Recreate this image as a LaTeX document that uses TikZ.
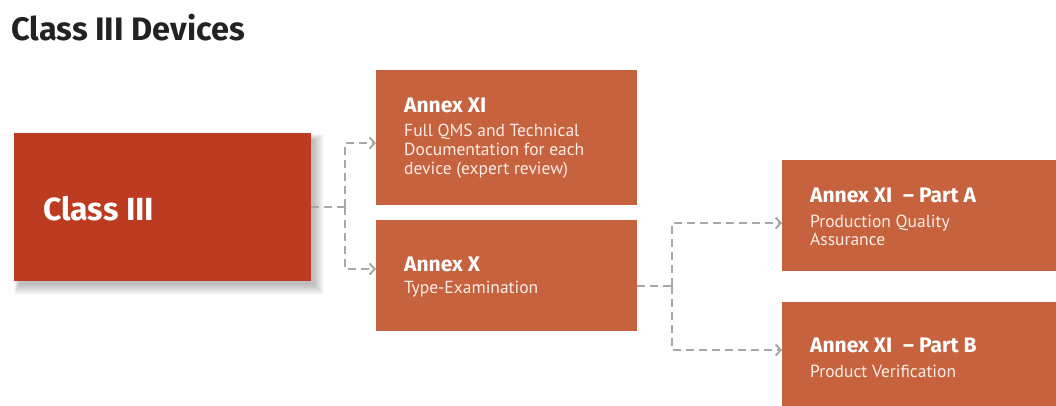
\documentclass[tikz,border=0pt]{standalone}
\usepackage{fontspec}
\setmainfont{Fira Sans}
\newfontfamily\subfont{PT Sans}
\usetikzlibrary{arrows.meta}
\definecolor{darkred}{HTML}{BC3B21}
\definecolor{rust}{HTML}{C7623E}
\definecolor{conngray}{HTML}{A8A8A8}
\definecolor{titleblack}{HTML}{222222}
\definecolor{subwhite}{HTML}{FBEDE6}
\begin{document}
\begin{tikzpicture}[x=1pt,y=-1pt,
  boxbase/.style={draw=none, anchor=north west, inner sep=0pt, outer sep=0pt},
  mainbox/.style={boxbase, fill=darkred},
  annexbox/.style={boxbase, fill=rust},
  headtext/.style={anchor=base west, inner sep=0pt, text=white, font=\bfseries\fontsize{21}{24}\selectfont},
  subtext/.style={anchor=base west, inner sep=0pt, text=subwhite, font=\subfont\fontsize{17.5}{19}\selectfont},
  conn/.style={draw=conngray, line width=2.2pt, dash pattern=on 8pt off 5pt},
  connarrow/.style={conn, -{Straight Barb[length=5pt,width=11pt,line width=2pt]}}]
\useasboundingbox (0,0) rectangle (1056,405);
\fill[white] (0,0) rectangle (1056,405);

% title
\node[anchor=base west, inner sep=0pt, text=titleblack, font=\bfseries\fontsize{32.5}{36}\selectfont] (title) at (11,40) {Class III Devices};

% soft shadow of the main box
\foreach \i in {0,...,10} {
  \fill[black, opacity=0.022] (14+5-\i*0.5,133+6-\i*0.5) rectangle (311+3+\i,281+4+\i);
}

% boxes
\node[mainbox, minimum width=297pt, minimum height=148pt] (c3) at (14,133) {};
\node[annexbox, minimum width=261pt, minimum height=135pt] (a11) at (376,70) {};
\node[annexbox, minimum width=261pt, minimum height=111pt] (a10) at (376,220) {};
\node[annexbox, minimum width=280pt, minimum height=111pt] (pa) at (782,160) {};
\node[annexbox, minimum width=280pt, minimum height=108pt] (pb) at (782,302) {};

% texts
\node[anchor=base west, inner sep=0pt, text=white, font=\bfseries\fontsize{32}{35}\selectfont] (c3t) at (43,220) {Class III};

\node[headtext] (a11h) at (404,112) {Annex XI};
\node[subtext] (a11s1) at (404,136) {Full QMS and Technical};
\node[subtext] (a11s2) at (404,155) {Documentation for each};
\node[subtext] (a11s3) at (404,174) {device (expert review)};

\node[headtext] (a10h) at (404,271) {Annex X};
\node[subtext] (a10s1) at (404,293) {Type-Examination};

\node[headtext] (pah) at (810,202) {Annex XI \hspace{6pt}– Part A};
\node[subtext] (pas1) at (810,227) {Production Quality};
\node[subtext] (pas2) at (810,245) {Assurance};

\node[headtext] (pbh) at (810,352) {Annex XI \hspace{6pt}– Part B};
\node[subtext] (pbs1) at (810,377) {Product Verification};

% connectors
\coordinate (j1) at (345,207);
\coordinate (j2) at (672,286);
\draw[conn] (c3.east) -- (j1);
\draw[connarrow] (j1) |- ([yshift=-5.5pt]a11.west);
\draw[connarrow] (j1) |- ([yshift=6.5pt]a10.west);
\draw[conn] ([yshift=-10.5pt]a10.east) -- (j2);
\draw[connarrow] (j2) |- ([yshift=-7.5pt]pa.west);
\draw[connarrow] (j2) |- ([yshift=6pt]pb.west);
\end{tikzpicture}
\end{document}
